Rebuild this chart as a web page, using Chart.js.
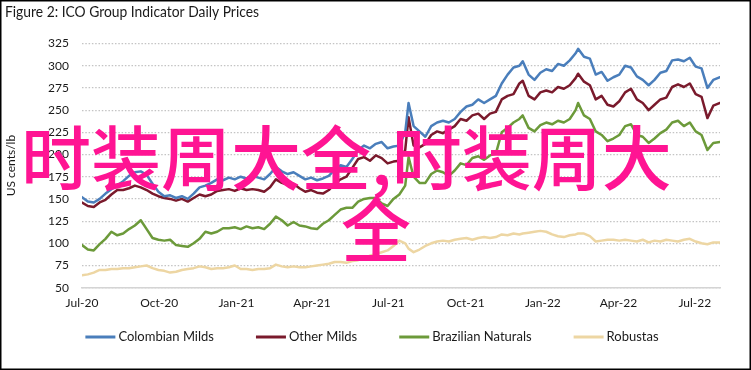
<!DOCTYPE html>
<html><head><meta charset="utf-8">
<script src="https://cdn.jsdelivr.net/npm/chart.js@4"></script>
<style>html,body{margin:0;padding:0;background:#fff}#wrap{width:751px;height:370px;position:relative;background:#fff}canvas{display:block}</style>
</head><body><div id="wrap"><canvas id="c" width="751" height="370"></canvas></div>
<script>
const chartTitle = 'Figure 2: ICO Group Indicator Daily Prices';
const yAxisTitle = 'US cents/lb';
const overlayLine1 = '时装周大全,时装周大';
const overlayLine2 = '全';
// days since 1 Jul 2020
const days = [0,7,14,21,28,35,42,49,56,63,70,77,84,91,98,105,112,119,126,133,140,147,154,161,168,175,182,189,196,203,210,217,224,231,238,245,252,259,266,273,280,287,294,301,308,315,322,329,336,343,350,357,364,371,378,385,
389,
395,402,409,416,423,430,437,444,451,458,465,472,479,486,493,500,507,514,521,
525,
532,539,546,553,560,567,574,581,588,
591,
598,605,612,619,626,633,640,647,654,661,668,675,682,689,696,703,710,717,724,731,738,745,752,
760];
const tickDays = [0,92,184,274,365,457,549,639,730];
const tickLabels = ['Jul-20','Oct-20','Jan-21','Apr-21','Jul-21','Oct-21','Jan-22','Apr-22','Jul-22'];
const seriesNames = ['Colombian Milds','Other Milds','Brazilian Naturals','Robustas'];
const colombianMilds = [152,147,146,150,156,161,165,170,176,180,
181,177,167,158,153,154,151,153,150,156,
163,165,168,172,171,174,172,175,173,176,
174,172,178,186,181,178,180,176,172,174,
171,173,176,183,188,186,195,205,210,207,
212,214,207,209,210,225,
258,
232,226,220,232,236,238,236,240,248,254,256,262,258,262,266,280,290,298,300,
305,
290,284,292,296,294,302,300,306,314,
319,
310,308,290,293,283,287,290,300,298,288,284,278,284,292,294,306,307,305,309,299,297,275,284,
287];
const otherMilds = [146,142,141,146,149,155,160,160,162,165,
163,160,156,153,151,150,148,150,147,151,
155,153,155,159,160,161,159,162,160,161,
160,158,163,172,168,166,167,162,158,160,
157,156,160,167,172,175,185,195,197,193,
199,196,190,192,193,205,
242,
210,208,212,222,226,224,228,232,240,238,244,246,240,246,248,262,266,268,280,
283,
266,262,270,272,270,276,274,278,286,
291,
282,278,262,266,256,254,260,270,274,262,258,250,256,262,264,276,279,276,280,268,265,241,255,
258];
const brazilianNaturals = [98,93,92,99,105,113,109,111,116,120,
126,116,106,104,103,104,98,97,96,100,
105,113,111,113,117,117,118,116,119,117,
118,116,122,130,126,120,124,120,119,117,
116,122,126,132,138,140,140,147,150,151,
151,145,142,150,155,165,
197,
175,168,168,178,182,180,176,182,190,188,196,198,194,199,201,225,230,236,240,
244,
230,226,233,236,234,238,236,240,250,
258,
244,240,226,222,215,218,222,232,234,222,220,213,218,224,228,236,238,232,236,226,222,205,213,
214];
const robustas = [64,65,67,70,70,71,71,72,72,73,
74,75,72,70,69,67,68,70,71,72,
74,73,71,72,72,73,75,71,71,70,
71,71,72,76,74,73,74,73,73,74,
75,76,77,79,79,78,80,81,83,86,
88,90,92,97,103,100,
94,
90,93,97,100,102,103,102,104,105,106,104,106,107,106,107,110,109,111,110,
111,
112,113,114,113,110,108,107,109,110,
111,
111,108,102,103,104,104,103,104,103,102,104,101,103,102,104,103,102,104,105,102,100,99,101,
101];
const seriesValues = [colombianMilds, otherMilds, brazilianNaturals, robustas];
const seriesColors = ['#4a7ebb','#7a1a2c','#6c9a3a','#edd6a3'];

const FONT = 'Lato, "Open Sans", sans-serif';
const TEXT = '#1a1a1a';

const decorPlugin = {
  id: 'decor',
  afterDraw(chart) {
    const ctx = chart.ctx;
    ctx.save();
    // title
    ctx.fillStyle = TEXT;
    ctx.font = '15px ' + FONT;
    ctx.textAlign = 'left';
    ctx.textBaseline = 'middle';
    ctx.fillText(chartTitle, 5, 12, 254);
    // legend
    ctx.font = '13px ' + FONT;
    const lineW = 30, gapT = 3, gapItem = 42;
    const widths = chart.data.datasets.map(ds => lineW + gapT + ctx.measureText(ds.label).width);
    const total = widths.reduce((a,b)=>a+b,0) + gapItem*(widths.length-1);
    let x = 372 - total/2;
    const ly = 337;
    chart.data.datasets.forEach((ds, i) => {
      ctx.strokeStyle = ds.borderColor;
      ctx.lineWidth = 3;
      ctx.beginPath(); ctx.moveTo(x, ly); ctx.lineTo(x+lineW, ly); ctx.stroke();
      ctx.fillStyle = TEXT;
      ctx.fillText(ds.label, x + lineW + gapT, ly);
      x += widths[i] + gapItem;
    });
    // overlay text
    ctx.fillStyle = '#ff1493';
    ctx.font = '500 70px "Noto Sans CJK SC", sans-serif';
    ctx.textAlign = 'left';
    ctx.fillText(overlayLine1, 21, 158);
    ctx.textAlign = 'center';
    ctx.fillText(overlayLine2, 376, 230);
    // frame
    ctx.strokeStyle = '#000';
    ctx.lineWidth = 1.5;
    ctx.strokeRect(0.75, 0.75, 749.5, 368.5);
    ctx.restore();
  }
};

new Chart(document.getElementById('c'), {
  type: 'line',
  data: {
    datasets: seriesNames.map((name, k) => ({
      label: name,
      data: days.map((d, i) => ({x: d, y: seriesValues[k][i]})),
      borderColor: seriesColors[k],
      backgroundColor: seriesColors[k],
      borderWidth: 2.5,
      borderJoinStyle: 'round',
      borderCapStyle: 'round',
      pointRadius: 0,
      pointHoverRadius: 0,
      tension: 0,
      fill: false
    }))
  },
  options: {
    responsive: false,
    devicePixelRatio: 1,
    animation: false,
    layout: { padding: { top: 43.5, right: 31, bottom: 60.3, left: 0 } },
    plugins: { legend: { display: false }, tooltip: { enabled: false } },
    scales: {
      x: {
        type: 'linear',
        min: 0, max: 760,
        afterBuildTicks(scale) { scale.ticks = tickDays.map(v => ({value: v})); },
        afterFit(scale) { scale.height = 22; },
        ticks: {
          autoSkip: false, maxRotation: 0, padding: 8,
          font: { family: FONT, size: 12 }, color: TEXT,
          callback(value) { const i = tickDays.indexOf(value); return i >= 0 ? tickLabels[i] : ''; }
        },
        grid: { display: false, drawTicks: false },
        border: { display: true, color: '#d4d4d4', width: 1.5 }
      },
      y: {
        min: 50, max: 325,
        afterFit(scale) { scale.width = 82; },
        ticks: { stepSize: 25, padding: 13, font: { family: FONT, size: 12 }, color: TEXT },
        grid: { color: '#c4c4c4', lineWidth: 1.2, drawTicks: false },
        border: { display: false, dash: [1.5, 1.8] },
        title: { display: true, text: yAxisTitle, font: { family: FONT, size: 12 }, color: TEXT, padding: { top: 4, bottom: 0 } }
      }
    }
  },
  plugins: [decorPlugin]
});
</script></body></html>
